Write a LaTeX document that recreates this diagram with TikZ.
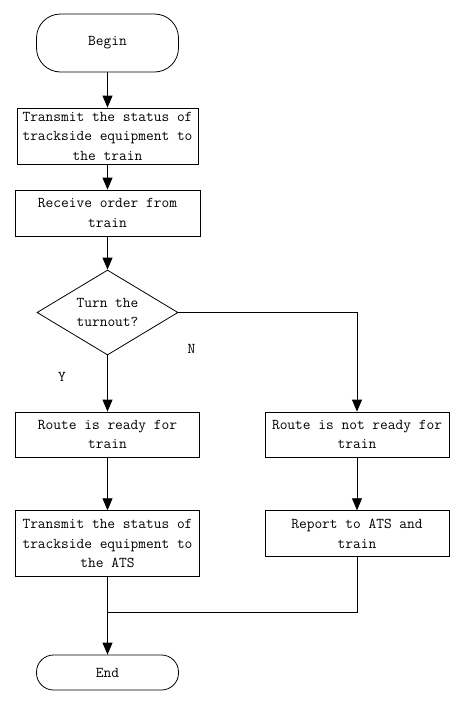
\documentclass[tikz,border=0pt]{standalone}
\usepackage{fontspec}
\usetikzlibrary{arrows.meta,shapes.geometric}
\begin{document}
\begin{tikzpicture}[x=1pt,y=-1pt,
  every node/.style={font=\ttfamily\fontsize{15}{19.5}\selectfont, align=center, inner sep=0pt},
  box/.style={draw, rectangle, line width=0.8pt},
  term/.style={draw, rectangle, line width=0.8pt},
  dia/.style={draw, diamond, shape aspect=1.66, line width=0.8pt},
  arr/.style={-{Triangle[width=10pt,length=12pt]}, line width=0.8pt},
  conn/.style={line width=0.8pt}]
\useasboundingbox (0,0) rectangle (464,705);
\fill[white] (0,0) rectangle (464,705);
\node[term, minimum width=142, minimum height=58, rounded corners=24] (begin) at (107.5,43) {Begin};
\node[box, minimum width=181, minimum height=56] (b1) at (107.5,136) {Transmit the status of\\trackside equipment to\\the train};
\node[box, minimum width=185, minimum height=46] (b2) at (107.5,213) {Receive order from\\train};
\node[dia, minimum width=141, minimum height=85] (d) at (107.5,312.5) {Turn the\\turnout?};
\node[box, minimum width=184.5, minimum height=45] (r1) at (107.5,434.5) {Route is ready for\\train};
\node[box, minimum width=184, minimum height=45] (r2) at (357,434.5) {Route is not ready for\\train};
\node[box, minimum width=184, minimum height=66] (t) at (107.5,543.7) {Transmit the status of\\trackside equipment to\\the ATS};
\node[box, minimum width=184, minimum height=46] (rep) at (357,533.7) {Report to ATS and\\train};
\node[term, minimum width=142, minimum height=35, rounded corners=17] (end) at (107.5,672.5) {End};
\node (N) at (191.5,349) {N};
\node (Y) at (62,377) {Y};
\coordinate (j) at (107.5,612);
\draw[arr] (begin) -- (b1);
\draw[arr] (b1) -- (b2);
\draw[arr] (b2) -- (d);
\draw[arr] (d) -- (r1);
\draw[arr] (d.east) -| (r2.north);
\draw[arr] (r1) -- (t);
\draw[arr] (r2) -- (rep);
\draw[conn] (rep.south) |- (j);
\draw[arr] (t) -- (end);
\end{tikzpicture}
\end{document}
